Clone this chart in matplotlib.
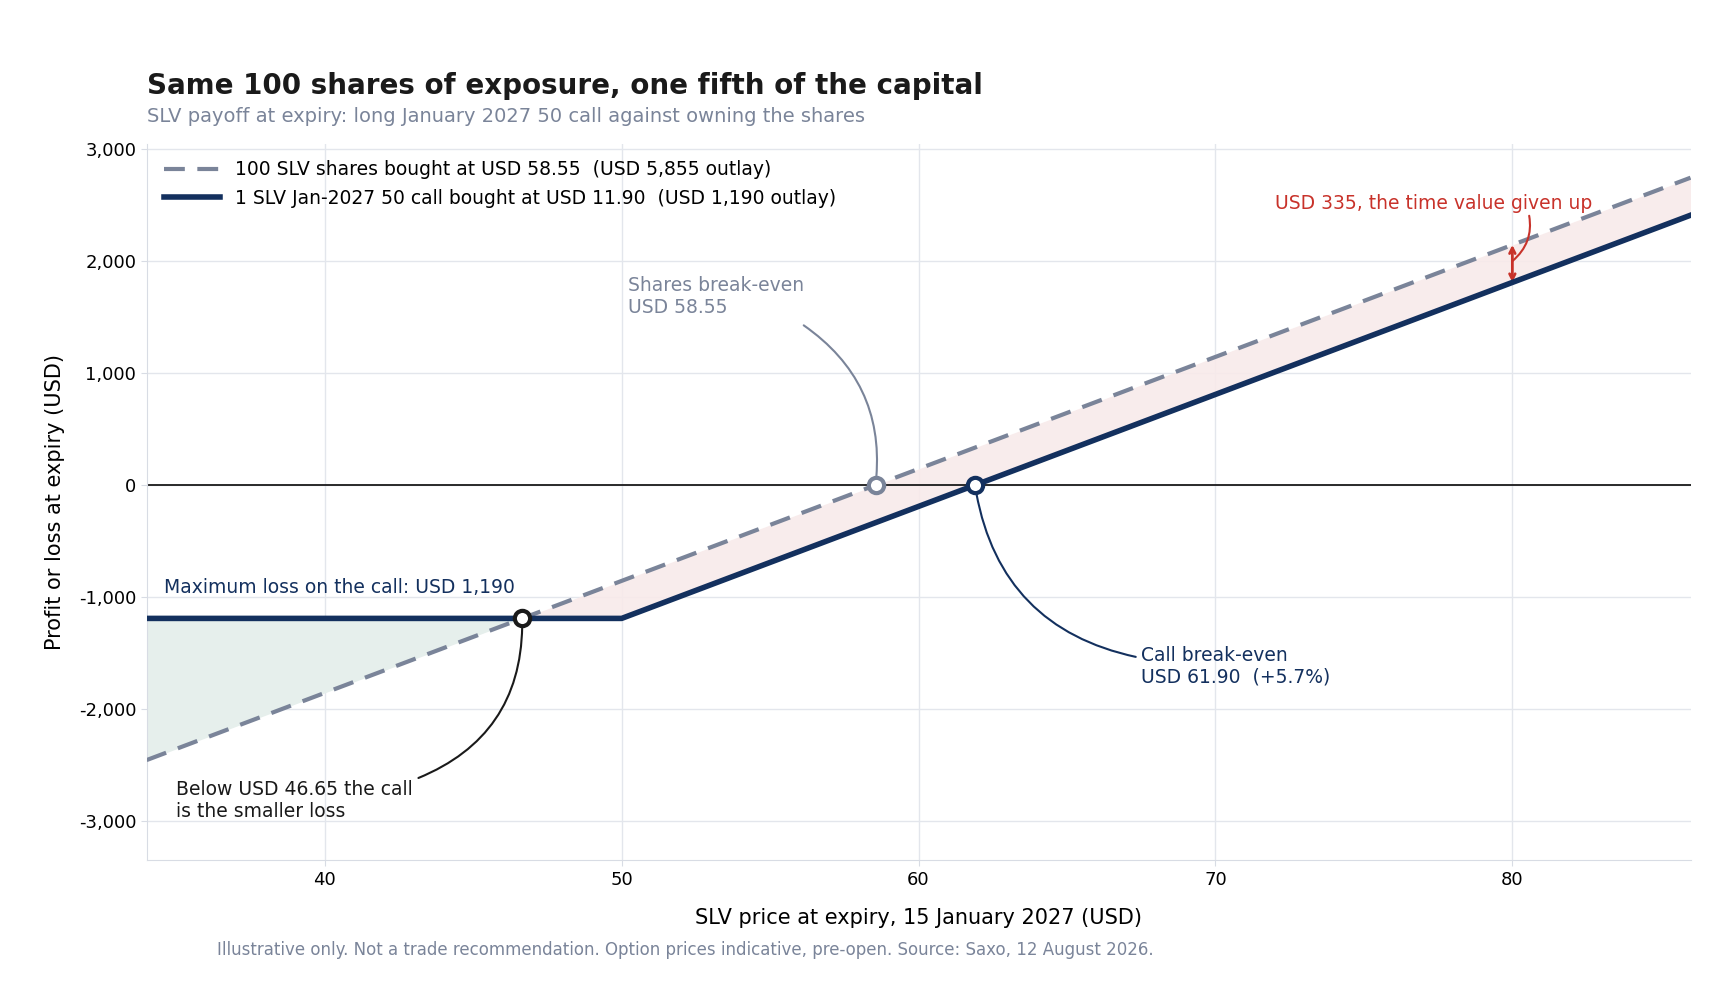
import matplotlib.pyplot as plt
import numpy as np

# Trade inputs
SHARE_PRICE = 58.55
STRIKE = 50.0
PREMIUM = 11.90
N_SHARES = 100
PRICE_MIN, PRICE_MAX = 34.0, 86.0
CROSSOVER = 46.65
CALL_BE = 61.90
TIME_VALUE_AT = 80.0

NAVY = '#13305e'
GREY = '#7a8499'
RED = '#c8322a'
DARK = '#1a1a1a'

prices = np.linspace(PRICE_MIN, PRICE_MAX, 1041)
shares_pl = N_SHARES * (prices - SHARE_PRICE)
call_pl = N_SHARES * (np.maximum(prices - STRIKE, 0) - PREMIUM)

fig = plt.figure(figsize=(17.25, 9.9), dpi=100)
ax = fig.add_axes([0.085, 0.131, 0.895, 0.724])

ax.fill_between(prices, shares_pl, call_pl, where=shares_pl >= call_pl,
                color='#f8eaea', alpha=0.9, interpolate=True, lw=0)
ax.fill_between(prices, shares_pl, call_pl, where=shares_pl <= call_pl,
                color='#e6efec', interpolate=True, lw=0)

ax.plot(prices, shares_pl, color=GREY, lw=3, ls=(0, (5, 3)),
        label='100 SLV shares bought at USD 58.55  (USD 5,855 outlay)', zorder=3)
ax.plot(prices, call_pl, color=NAVY, lw=4,
        label='1 SLV Jan-2027 50 call bought at USD 11.90  (USD 1,190 outlay)', zorder=4)
ax.axhline(0, color=DARK, lw=1.3, zorder=2)

ax.set_xlim(PRICE_MIN, PRICE_MAX)
ax.set_ylim(-3350, 3050)
ax.set_xticks([40, 50, 60, 70, 80])
ax.set_yticks(np.arange(-3000, 3001, 1000))
ax.yaxis.set_major_formatter(plt.FuncFormatter(lambda v, p: f'{int(v):,}'))
ax.tick_params(labelsize=13, color='#d8dce4', length=4)
ax.grid(color='#e3e6ec', lw=1)
ax.set_axisbelow(True)
for s in ['top', 'right']:
    ax.spines[s].set_visible(False)
for s in ['left', 'bottom']:
    ax.spines[s].set_color('#d8dce4')

ax.set_xlabel('SLV price at expiry, 15 January 2027 (USD)', fontsize=15, labelpad=14)
ax.set_ylabel('Profit or loss at expiry (USD)', fontsize=15, labelpad=10)

leg = ax.legend(loc='upper left', fontsize=13.5, frameon=False, handlelength=3)

# Markers
ax.plot(SHARE_PRICE, 0, 'o', ms=11, mfc='white', mec=GREY, mew=3, zorder=6)
ax.plot(CALL_BE, 0, 'o', ms=11, mfc='white', mec=NAVY, mew=3, zorder=6)
ax.plot(CROSSOVER, -1190, 'o', ms=11, mfc='white', mec=DARK, mew=3, zorder=6)

ax.annotate('Shares break-even\nUSD 58.55', xy=(SHARE_PRICE, 0), xytext=(50.2, 1500),
            fontsize=13.5, color=GREY, ha='left', va='bottom',
            arrowprops=dict(arrowstyle='-', color=GREY, lw=1.5,
                            connectionstyle='arc3,rad=-0.3', shrinkA=0, shrinkB=6,
                            patchA=None, relpos=(1.0, -0.2)))
ax.annotate('Call break-even\nUSD 61.90  (+5.7%)', xy=(CALL_BE, 0), xytext=(67.5, -1800),
            fontsize=13.5, color=NAVY, ha='left', va='bottom',
            arrowprops=dict(arrowstyle='-', color=NAVY, lw=1.5,
                            connectionstyle='arc3,rad=-0.35', shrinkA=2, shrinkB=6,
                            relpos=(0, 0.7)))
ax.annotate('Below USD 46.65 the call\nis the smaller loss', xy=(CROSSOVER, -1190),
            xytext=(35.0, -3000), fontsize=13.5, color=DARK, ha='left', va='bottom',
            arrowprops=dict(arrowstyle='-', color=DARK, lw=1.5,
                            connectionstyle='arc3,rad=0.35', shrinkA=2, shrinkB=6,
                            relpos=(1.0, 1.0)))
ax.text(34.6, -1000, 'Maximum loss on the call: USD 1,190', fontsize=13.5, color=NAVY,
        va='bottom')

y_sh = N_SHARES * (TIME_VALUE_AT - SHARE_PRICE)
y_call = N_SHARES * (TIME_VALUE_AT - STRIKE - PREMIUM)
ax.annotate('', xy=(TIME_VALUE_AT, y_call), xytext=(TIME_VALUE_AT, y_sh),
            arrowprops=dict(arrowstyle='<->', color=RED, lw=2, shrinkA=0, shrinkB=0))
ax.annotate('USD 335, the time value given up', xy=(TIME_VALUE_AT, 2000),
            xytext=(72, 2430), fontsize=13.5, color=RED, ha='left', va='bottom',
            arrowprops=dict(arrowstyle='-', color=RED, lw=1.5,
                            connectionstyle='arc3,rad=-0.3', shrinkA=0, shrinkB=0,
                            relpos=(0.8, 0)))

fig.text(0.085, 0.905, 'Same 100 shares of exposure, one fifth of the capital',
         fontsize=20, fontweight='bold', color=DARK)
fig.text(0.085, 0.877, 'SLV payoff at expiry: long January 2027 50 call against owning the shares',
         fontsize=14, color=GREY)
fig.text(0.126, 0.015 + 0.02, 'Illustrative only. Not a trade recommendation. Option prices indicative, pre-open. Source: Saxo, 12 August 2026.',
         fontsize=12, color=GREY)

fig.savefig('out.png', dpi=100)
